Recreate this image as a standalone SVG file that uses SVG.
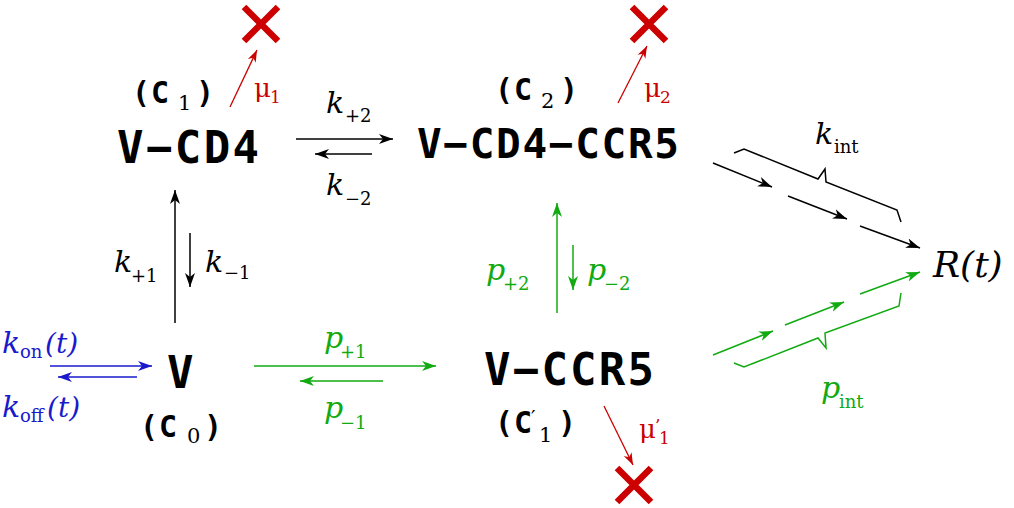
<svg xmlns="http://www.w3.org/2000/svg" width="1014" height="508" viewBox="0 0 1014 508">
<style>
.k{fill:#000}.g{fill:#11aa11}.b{fill:#1a1acc}.r{fill:#cc0000}
.lk{stroke:#000;stroke-width:1.5;fill:none}
.lg{stroke:#11aa11;stroke-width:1.5;fill:none}
.lbl{stroke:#1a1acc;stroke-width:1.5;fill:none}
.lr{stroke:#cc0000;stroke-width:1.3;fill:none}
.x{stroke:#cc0000;stroke-width:6.5;fill:none}
.mono{font-family:'DejaVu Sans Mono','Liberation Mono',monospace;font-weight:bold}
.ser{font-family:'DejaVu Serif','Liberation Serif',serif}
.it{font-style:italic;font-size:30px}
.sub{font-size:18px}
</style>
<defs>
<marker id="ak" viewBox="-14 -6 15 12" refX="0" refY="0" markerWidth="15" markerHeight="12" markerUnits="userSpaceOnUse" orient="auto"><path d="M0,0 L-14,-5 L-10,0 L-14,5 Z" fill="#000"/></marker>
<marker id="ag" viewBox="-14 -6 15 12" refX="0" refY="0" markerWidth="15" markerHeight="12" markerUnits="userSpaceOnUse" orient="auto"><path d="M0,0 L-14,-5 L-10,0 L-14,5 Z" fill="#11aa11"/></marker>
<marker id="ab" viewBox="-14 -6 15 12" refX="0" refY="0" markerWidth="15" markerHeight="12" markerUnits="userSpaceOnUse" orient="auto"><path d="M0,0 L-14,-5 L-10,0 L-14,5 Z" fill="#1a1acc"/></marker>
<marker id="ar" viewBox="-14 -6 15 12" refX="0" refY="0" markerWidth="13" markerHeight="11" markerUnits="userSpaceOnUse" orient="auto"><path d="M0,0 L-14,-5 L-10,0 L-14,5 Z" fill="#cc0000"/></marker>
</defs>

<g id="connectors">
  <line class="lk" x1="296" y1="139" x2="393" y2="139" marker-end="url(#ak)"/>
  <line class="lk" x1="372" y1="154" x2="315" y2="154" marker-end="url(#ak)"/>
  <line class="lk" x1="175" y1="323" x2="175" y2="190" marker-end="url(#ak)"/>
  <line class="lk" x1="190" y1="233" x2="190" y2="287" marker-end="url(#ak)"/>
  <line class="lg" x1="557" y1="313" x2="557" y2="203" marker-end="url(#ag)"/>
  <line class="lg" x1="573" y1="245" x2="573" y2="290" marker-end="url(#ag)"/>
  <line class="lg" x1="254" y1="366" x2="436" y2="366" marker-end="url(#ag)"/>
  <line class="lg" x1="383" y1="381" x2="300" y2="381" marker-end="url(#ag)"/>
  <line class="lbl" x1="50" y1="366" x2="152" y2="366" marker-end="url(#ab)"/>
  <line class="lbl" x1="137" y1="377" x2="58" y2="377" marker-end="url(#ab)"/>
  <line class="lr" x1="230" y1="107" x2="257" y2="50" marker-end="url(#ar)"/>
  <line class="lr" x1="618" y1="103" x2="647" y2="46" marker-end="url(#ar)"/>
  <line class="lr" x1="604" y1="406" x2="633" y2="465" marker-end="url(#ar)"/>
  <line class="lk" x1="713" y1="163" x2="772" y2="187" marker-end="url(#ak)"/>
  <line class="lk" x1="788" y1="196" x2="847" y2="219" marker-end="url(#ak)"/>
  <line class="lk" x1="860" y1="226" x2="920" y2="248" marker-end="url(#ak)"/>
  <polyline class="lk" points="734,153 744,149 818,179 825,169 826,182 897,210 901,222"/>
  <line class="lg" x1="713" y1="355" x2="773" y2="331" marker-end="url(#ag)"/>
  <line class="lg" x1="785" y1="325" x2="844" y2="302" marker-end="url(#ag)"/>
  <line class="lg" x1="860" y1="294" x2="920" y2="272" marker-end="url(#ag)"/>
  <polyline class="lg" points="734,363 744,367 818,338 826,348 825,333 899,306 901,293"/>
</g>

<g id="x1"><path class="x" d="M244,7 L278,41 M278,7 L244,41"/></g>
<g id="x2"><path class="x" d="M632,7 L666,41 M666,7 L632,41"/></g>
<g id="x3"><path class="x" d="M617,468 L651,502 M651,468 L617,502"/></g>

<g id="node-vcd4">
  <text class="mono" x="117" y="163" font-size="44" textLength="142" lengthAdjust="spacing">V−CD4</text>
  <text class="mono" x="132" y="103" font-size="30">(</text><text class="mono" x="151" y="103" font-size="30">C</text>
  <text class="ser" x="178" y="110" font-size="21">1</text>
  <text class="mono" x="196" y="103" font-size="30">)</text>
</g>
<g id="node-vcd4ccr5">
  <text class="mono" x="417" y="158" font-size="41" textLength="262" lengthAdjust="spacing">V−CD4−CCR5</text>
  <text class="mono" x="495" y="100" font-size="30">(</text><text class="mono" x="514" y="100" font-size="30">C</text>
  <text class="ser" x="541" y="108" font-size="21">2</text>
  <text class="mono" x="560" y="100" font-size="30">)</text>
</g>
<g id="node-v">
  <text class="mono" x="167" y="388" font-size="44">V</text>
  <text class="mono" x="140" y="437" font-size="30">(</text><text class="mono" x="159" y="437" font-size="30">C</text>
  <text class="ser" x="187" y="443" font-size="21">0</text>
  <text class="mono" x="204" y="437" font-size="30">)</text>
</g>
<g id="node-vccr5">
  <text class="mono" x="484" y="385" font-size="44" textLength="170" lengthAdjust="spacing">V−CCR5</text>
  <text class="mono" x="495" y="433" font-size="30">(</text><text class="mono" x="514" y="433" font-size="30">C</text>
  <text class="ser" x="531" y="425" font-size="20">′</text>
  <text class="ser" x="539" y="442" font-size="21">1</text>
  <text class="mono" x="558" y="433" font-size="30">)</text>
</g>
<g id="node-r">
  <text class="ser" x="933" y="277" font-size="36" font-style="italic">R(t)</text>
</g>

<g id="labels" class="ser">
  <text class="it k" x="326" y="113">k</text><text class="sub k" x="345" y="122">+2</text>
  <text class="it k" x="326" y="195">k</text><text class="sub k" x="345" y="205">−2</text>
  <text class="it k" x="114" y="272">k</text><text class="sub k" x="131" y="282">+1</text>
  <text class="it k" x="205" y="272">k</text><text class="sub k" x="224" y="279">−1</text>
  <text class="it g" x="486" y="280">p</text><text class="sub g" x="503" y="290">+2</text>
  <text class="it g" x="587" y="280">p</text><text class="sub g" x="604" y="290">−2</text>
  <text class="it g" x="324" y="348">p</text><text class="sub g" x="340" y="358">+1</text>
  <text class="it g" x="324" y="418">p</text><text class="sub g" x="340" y="429">−1</text>
  <text class="it b" x="2" y="353">k</text><text class="sub b" x="20" y="358">on</text><text class="b" x="45" y="353" font-style="italic" font-size="28">(t)</text>
  <text class="it b" x="2" y="417">k</text><text class="sub b" x="20" y="422">off</text><text class="b" x="47" y="417" font-style="italic" font-size="28">(t)</text>
  <text class="it k" x="815" y="144">k</text><text class="sub k" x="834" y="153">int</text>
  <text class="it g" x="821" y="398">p</text><text class="sub g" x="839" y="408">int</text>
  <g font-size="26" class="r">
  <text x="254" y="97">μ</text><text x="644" y="97">μ</text><text x="639" y="438">μ</text>
  </g>
  <g font-size="17" class="r">
  <text x="270" y="103">1</text><text x="660" y="103">2</text>
  <text x="655" y="431">’</text><text x="659" y="444">1</text>
  </g>
</g>
</svg>
